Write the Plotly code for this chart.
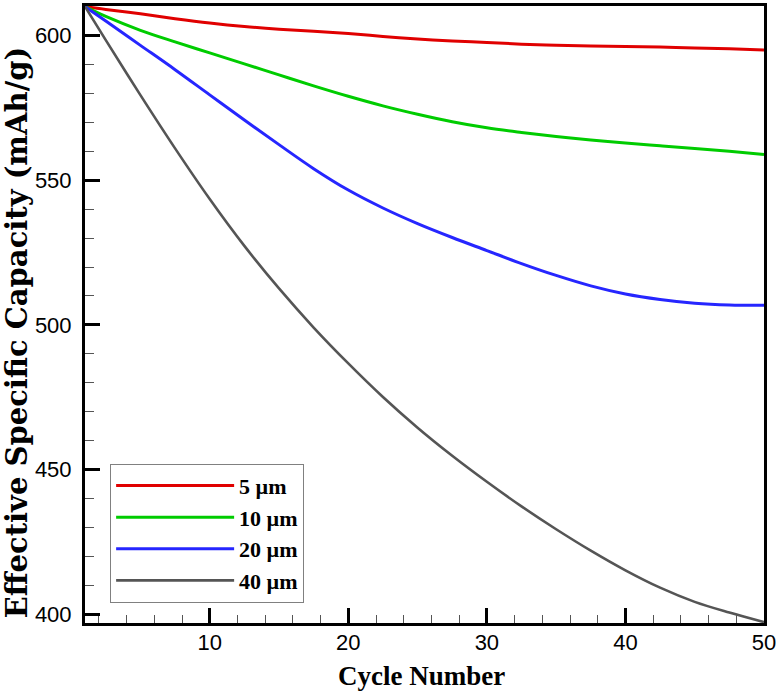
import plotly.graph_objects as go

cycles = [1, 2.5, 5, 7.5, 10, 12.5, 15, 17.5, 20, 22.5, 25,
          27.5, 30, 32.5, 35, 37.5, 40, 42.5, 45, 47.5, 50]
cap_5um = [610, 609.0, 607.5, 605.8, 604.3, 603.1, 602.2, 601.5, 600.7, 599.7, 598.8,
           598.1, 597.6, 597.0, 596.6, 596.4, 596.2, 596.0, 595.7, 595.4, 595.0]
cap_10um = [610, 606.6, 601.8, 597.8, 594.0, 590.2, 586.4, 582.6, 579.0, 575.7, 572.8,
            570.2, 568.1, 566.5, 565.1, 563.9, 562.9, 561.9, 561.0, 560.0, 558.9]
cap_20um = [610, 605.0, 596.6, 588.2, 579.5, 570.8, 562.3, 554.0, 546.6, 540.4, 535.0,
            530.2, 525.7, 521.2, 517.1, 513.5, 510.7, 508.8, 507.5, 506.9, 506.8]
cap_40um = [610, 598.4, 579.4, 561.0, 543.5, 527.3, 512.6, 499.1, 486.7, 475.1, 464.5,
            454.8, 445.8, 437.3, 429.4, 422.0, 415.2, 409.2, 404.3, 400.6, 397.3]

series_names = ["5 µm", "10 µm", "20 µm", "40 µm"]
series_values = [cap_5um, cap_10um, cap_20um, cap_40um]
series_colors = ["#e00000", "#00cc00", "#2626ff", "#555555"]
series_widths = [3, 3, 3, 2.6]

x_tickvals = [10, 20, 30, 40, 50]
y_tickvals = [400, 450, 500, 550, 600]

fig = go.Figure()
for name, vals, col, w in zip(series_names, series_values, series_colors, series_widths):
    fig.add_trace(go.Scatter(
        x=cycles, y=vals, mode="lines", name=name,
        line=dict(color=col, width=w, shape="spline", smoothing=1.0),
    ))

serif = "Liberation Serif"
sans = "Liberation Sans"

fig.update_layout(
    width=779, height=692,
    margin=dict(l=85, r=15, t=3, b=69),
    paper_bgcolor="white", plot_bgcolor="white",
    showlegend=True,
    legend=dict(
        x=0.037, y=0.258, xanchor="left", yanchor="top",
        bordercolor="#808080", borderwidth=1, bgcolor="white",
        font=dict(family=serif, size=22, color="black", weight="bold"),
        itemwidth=118, tracegroupgap=0,
    ),
    xaxis=dict(
        range=[1, 50], tickvals=x_tickvals, ticktext=[str(v) for v in x_tickvals],
        ticks="inside", ticklen=15, tickwidth=3, tickcolor="black",
        showline=True, linewidth=3, linecolor="black", mirror=True,
        showgrid=False, zeroline=False,
        tickfont=dict(family=sans, size=22, color="black"),
        ticklabelstandoff=-2,
        minor=dict(ticks="inside", ticklen=8, tickwidth=1, tickcolor="#555555", dtick=2, tick0=0, showgrid=False),
    ),
    yaxis=dict(
        range=[397, 610.2], tickvals=y_tickvals, ticktext=[str(v) for v in y_tickvals],
        ticks="inside", ticklen=15, tickwidth=3, tickcolor="black",
        showline=True, linewidth=3, linecolor="black", mirror=True,
        showgrid=False, zeroline=False,
        tickfont=dict(family=sans, size=22, color="black"),
        ticklabelstandoff=6,
        minor=dict(ticks="inside", ticklen=9, tickwidth=1, tickcolor="#555555", dtick=10, tick0=0, showgrid=False),
    ),
    annotations=[
        dict(text="Cycle Number", xref="paper", yref="paper", x=0.496, y=-0.0866,
             xanchor="center", yanchor="middle", showarrow=False,
             font=dict(family=serif, size=27, color="black", weight="bold")),
        dict(text="Effective Specific Capacity (mAh/g)", xref="paper", yref="paper",
             x=-0.101, y=0.4718, xanchor="center", yanchor="middle", showarrow=False,
             textangle=-90,
             font=dict(family="DejaVu Serif", size=29, color="black", weight="bold")),
    ],
)

fig.write_html("out.html")
